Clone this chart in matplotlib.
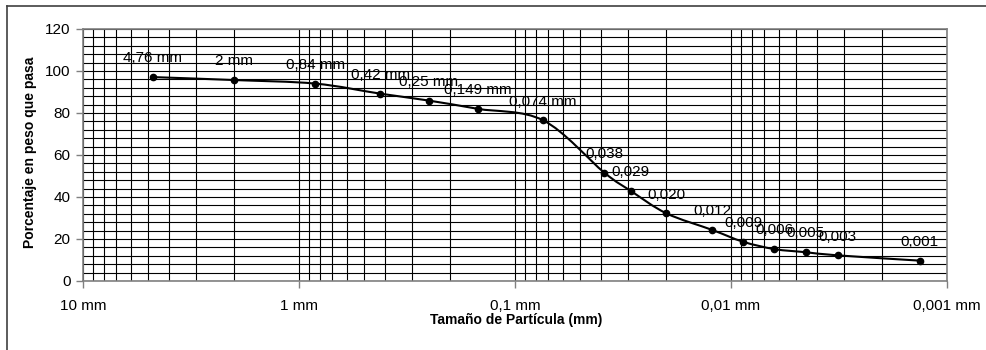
import numpy as np
import matplotlib
matplotlib.use("Agg")
import matplotlib.pyplot as plt
from matplotlib.path import Path
from matplotlib.patches import PathPatch
from matplotlib.lines import Line2D
from matplotlib.ticker import FixedLocator, FixedFormatter, LogLocator, NullFormatter, MultipleLocator

plt.rcParams['font.family'] = ['Liberation Sans', 'DejaVu Sans']

# Particle size (mm) and percent passing
size_mm = [4.76, 2.0, 0.84, 0.42, 0.25, 0.149, 0.074, 0.0386, 0.0291, 0.0199,
           0.0122, 0.0088, 0.0063, 0.0045, 0.0032, 0.00134]
passing = [97.1, 95.7, 94.0, 89.2, 85.9, 82.0, 76.5, 51.6, 42.9, 32.2,
           24.3, 18.7, 15.2, 13.7, 12.2, 9.7]
point_labels = ['4,76 mm', '2 mm', '0,84 mm', '0,42 mm', '0,25 mm', '0,149 mm',
                '0,074 mm', '0,038', '0,029', '0,020', '0,012', '0,009',
                '0,006', '0,005', '0,003', '0,001']

x_ticks = [10, 1, 0.1, 0.01, 0.001]
x_tick_labels = ['10 mm', '1 mm', '0,1 mm', '0,01 mm', '0,001 mm']
y_ticks = [0, 20, 40, 60, 80, 100, 120]


def smooth_path(xs, ys):
    # Catmull-Rom style bezier (like the smoothed line of a spreadsheet) in log-x space
    pts = np.column_stack([np.log10(xs), ys])
    n = len(pts)
    verts = [pts[0]]
    codes = [Path.MOVETO]
    for i in range(n - 1):
        p0 = pts[max(i - 1, 0)]
        p1 = pts[i]
        p2 = pts[i + 1]
        p3 = pts[min(i + 2, n - 1)]
        verts += [p1 + (p2 - p0) / 6, p2 - (p3 - p1) / 6, p2]
        codes += [Path.CURVE4] * 3
    verts = np.array(verts)
    verts[:, 0] = 10 ** verts[:, 0]
    return Path(verts, codes)


fig = plt.figure(figsize=(9.87, 3.5), dpi=100)
ax = fig.add_axes([83 / 987, 1 - 281 / 350, 864 / 987, 252 / 350])

ax.set_xscale('log')
ax.set_xlim(10, 0.001)
ax.set_ylim(0, 120)

# grid
ax.xaxis.set_major_locator(FixedLocator(x_ticks))
ax.xaxis.set_major_formatter(FixedFormatter(x_tick_labels))
ax.xaxis.set_minor_locator(LogLocator(base=10, subs=np.arange(2, 10)))
ax.xaxis.set_minor_formatter(NullFormatter())
ax.yaxis.set_major_locator(FixedLocator(y_ticks))
ax.yaxis.set_minor_locator(MultipleLocator(4))
ax.grid(which='both', color='black', lw=0.8)
ax.set_axisbelow(True)

ax.tick_params(which='major', length=5, width=1, color='#808080', labelsize=11)
ax.tick_params(axis='x', which='major', pad=8)
ax.tick_params(axis='y', which='major', pad=4)
ax.tick_params(which='minor', length=0)
for sp in ax.spines.values():
    sp.set_color('#808080')
    sp.set_linewidth(1.2)

# curve + markers
ax.add_patch(PathPatch(smooth_path(size_mm, passing), fill=False, color='black', lw=1.5, zorder=3))
ax.plot(size_mm, passing, 'o', color='black', ms=4.5, zorder=4)

for x, y, t in zip(size_mm, passing, point_labels):
    ax.annotate(t, (x, y), xytext=(0, 13.5), textcoords='offset points',
                ha='center', va='center', fontsize=11, zorder=5)

ax.set_xlabel('Tamaño de Partícula (mm)', fontsize=10, fontweight='bold')
ax.xaxis.set_label_coords(0.501, -0.128)
ax.set_ylabel('Porcentaje en peso que pasa', fontsize=10, fontweight='bold')
ax.yaxis.set_label_coords(-0.053, 0.51)

# outer chart frame (top and left edges visible)
fig.add_artist(Line2D([7.3 / 987, 1], [1 - 5.5 / 350, 1 - 5.5 / 350], color='#404040', lw=1.2))
fig.add_artist(Line2D([7.3 / 987, 7.3 / 987], [0, 1 - 5.5 / 350], color='#404040', lw=1.2))

fig.savefig('out.png', dpi=100)
